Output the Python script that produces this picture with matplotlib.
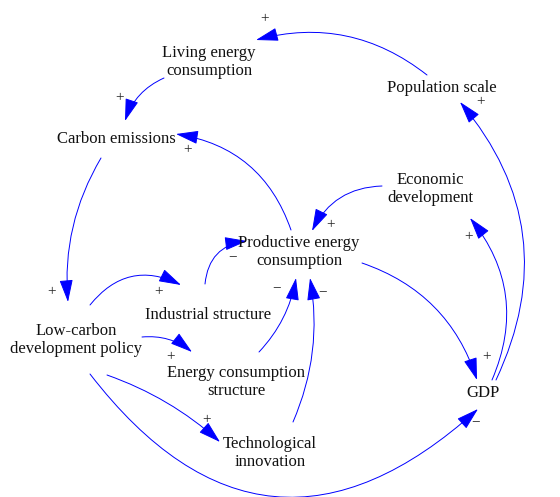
import matplotlib.pyplot as plt
from matplotlib.patches import FancyArrowPatch

# variables of the causal loop diagram
labels = {
    "life": "Living energy\nconsumption",
    "pop": "Population scale",
    "co2": "Carbon emissions",
    "eco": "Economic\ndevelopment",
    "prod": "Productive energy\nconsumption",
    "ind": "Industrial structure",
    "policy": "Low-carbon\ndevelopment policy",
    "ecs": "Energy consumption\nstructure",
    "gdp": "GDP",
    "tech": "Technological\ninnovation",
}

# causal links: source -> target with polarity
sources = ["pop", "life", "prod", "co2", "policy", "ind", "policy", "ecs",
           "tech", "policy", "policy", "prod", "gdp", "gdp", "eco"]
targets = ["life", "co2", "co2", "policy", "ind", "prod", "ecs", "prod",
           "prod", "tech", "gdp", "gdp", "eco", "pop", "prod"]
signs = ["+", "+", "+", "+", "+", "−", "+", "−",
         "−", "+", "−", "+", "+", "+", "+"]

# layout (pixel coordinates of the picture)
node_pos = {
    "life": (209, 62), "pop": (442, 88), "co2": (116, 139),
    "eco": (430, 189), "prod": (299, 252), "ind": (208, 315),
    "policy": (76, 340), "ecs": (236, 382), "gdp": (483, 393),
    "tech": (270, 453),
}
link_start = [(427, 75), (164, 78), (291, 230), (101, 158), (90, 305),
              (205, 284), (142, 337), (259, 352), (293, 422), (107, 375),
              (90, 374), (362, 263), (492, 380), (496, 380), (382, 186)]
link_end = [(256, 40), (125, 121), (176, 134), (68, 302), (181, 285),
            (247, 241), (192, 352), (296, 278), (310, 278), (220, 442),
            (478, 409), (477, 380), (470, 218), (460, 102), (312, 231)]
link_rad = [0.25, 0.22, 0.3, 0.16, -0.4, -0.4, -0.2, 0.15, 0.15, -0.1,
            0.54, -0.25, 0.3, 0.32, 0.3]
sign_pos = [(265, 19), (120, 98), (188, 150), (52, 292), (159, 292),
            (233, 257), (171, 357), (277, 288), (323, 292), (207, 420),
            (476, 422), (487, 357), (469, 237), (481, 102), (331, 225)]

blue = "#0000ff"
font = "Liberation Serif"

fig = plt.figure(figsize=(5.6, 4.97), dpi=100)
ax = fig.add_axes([0, 0, 1, 1])
ax.set_xlim(0, 560)
ax.set_ylim(497, 0)
ax.axis("off")

for key, text in labels.items():
    x, y = node_pos[key]
    ax.text(x, y, text, ha="center", va="center", multialignment="center",
            fontsize=12, family=font, color="#111111", linespacing=1.15)

for i in range(len(sources)):
    arrow = FancyArrowPatch(link_start[i], link_end[i],
                            connectionstyle=f"arc3,rad={link_rad[i]}",
                            arrowstyle="-|>,head_length=1.4,head_width=0.42",
                            mutation_scale=10, color=blue, lw=0.7,
                            shrinkA=0, shrinkB=0)
    ax.add_patch(arrow)
    sx, sy = sign_pos[i]
    ax.text(sx, sy, signs[i], ha="center", va="center", fontsize=11,
            family=font, color="#222222")

fig.savefig("out.png", dpi=100)
